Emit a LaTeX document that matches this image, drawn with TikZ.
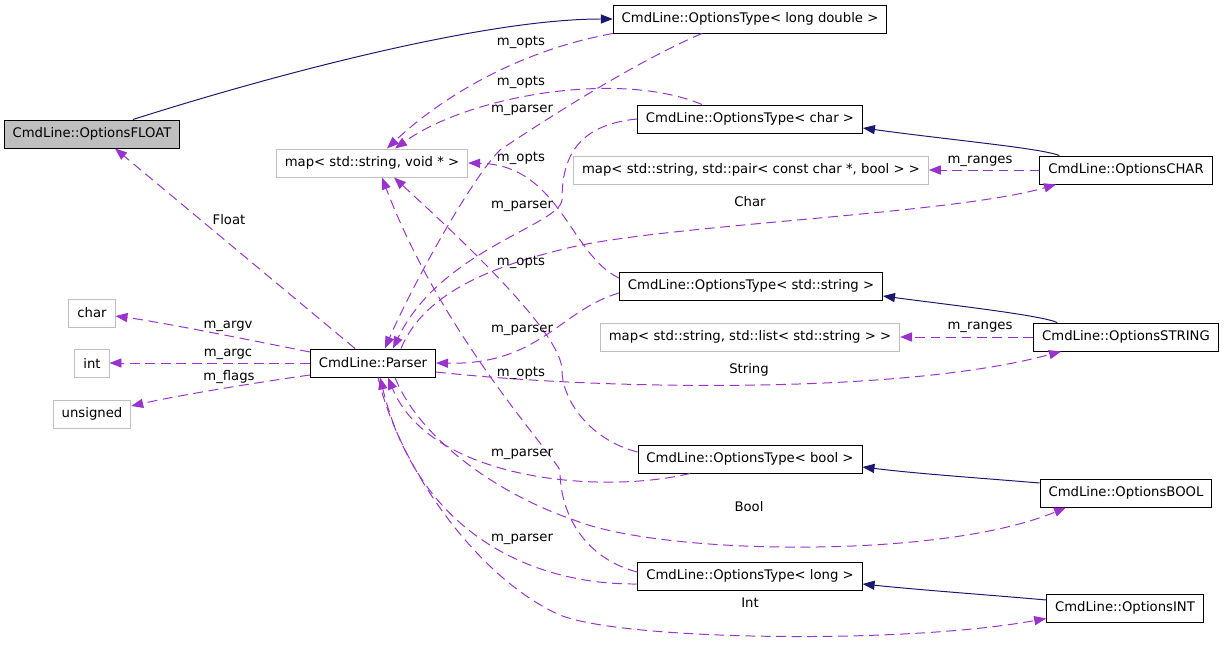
\documentclass[tikz,border=0pt]{standalone}
\usepackage{fontspec}
\setmainfont{DejaVu Sans}
\usepackage{tikz}
\usetikzlibrary{arrows.meta,calc}
\definecolor{inhBlue}{HTML}{191970}
\definecolor{usePurple}{HTML}{9A32CD}
\definecolor{extGray}{HTML}{BFBFBF}

\begin{document}
\begin{tikzpicture}[x=0.025cm,y=-0.025cm,font=\fontsize{9.4}{11}\selectfont,
  cls/.style={draw,fill=white,line width=0.7pt,minimum height=0.7cm,inner xsep=6pt,inner ysep=0pt},
  ext/.style={cls,draw=extGray},
  focus/.style={cls,fill=extGray},
  inh/.style={draw=inhBlue,line width=0.7pt,-{Triangle[length=8.5pt,width=6.5pt]}},
  use/.style={draw=usePurple,line width=0.7pt,dash pattern=on 7pt off 4pt,-{Triangle[length=8.5pt,width=6.5pt]}},
  lbl/.style={inner sep=0pt}]
\useasboundingbox (0,0) rectangle (1224,649);
% classes
\node[focus] (flt) at (92,134) {CmdLine::OptionsFLOAT};
\node[cls] (ldbl) at (750,19) {CmdLine::OptionsType< long double >};
\node[ext] (vmap) at (372,163) {map< std::string, void * >};
\node[cls] (tchar) at (750,119) {CmdLine::OptionsType< char >};
\node[ext] (pmap) at (751,170) {map< std::string, std::pair< const char *, bool > >};
\node[cls] (ochar) at (1126,170) {CmdLine::OptionsCHAR};
\node[cls] (tstr) at (751,286) {CmdLine::OptionsType< std::string >};
\node[ext] (lmap) at (750,337) {map< std::string, std::list< std::string > >};
\node[cls] (ostr) at (1126,337) {CmdLine::OptionsSTRING};
\node[cls] (parser) at (373,363) {CmdLine::Parser};
\node[ext] (cchar) at (92,313) {char};
\node[ext] (cint) at (92,363) {int};
\node[ext] (cuns) at (92,414) {unsigned};
\node[cls] (tbool) at (750,459) {CmdLine::OptionsType< bool >};
\node[cls] (obool) at (1126,493) {CmdLine::OptionsBOOL};
\node[cls] (tlong) at (750,576) {CmdLine::OptionsType< long >};
\node[cls] (oint) at (1125,608) {CmdLine::OptionsINT};
% inheritance
\draw[inh] ($(flt.north)+(41,0)$) .. controls (263,78) and (480,19) .. (ldbl.west);
\draw[inh] ($(ochar.north west)+(20,0)$) .. controls (1040,148) and (950,140) .. ($(tchar.east)+(0,9)$);
\draw[inh] ($(ostr.north west)+(24,0)$) .. controls (1040,315) and (950,305) .. ($(tstr.east)+(0,10)$);
\draw[inh] ($(obool.west)+(0,-10)$) .. controls (980,478) and (920,474) .. ($(tbool.east)+(0,8)$);
\draw[inh] ($(oint.west)+(0,-8)$) .. controls (990,595) and (920,590) .. ($(tlong.east)+(0,8)$);
% parser members
\draw[use] ($(parser.north)+(-18,0)$) -- ($(flt.south)+(23,0)$);
\draw[use] ($(parser.west)+(0,-11)$) .. controls (240,338) and (160,322) .. ($(cchar.east)+(0,3)$);
\draw[use] (parser.west) -- (cint.east);
\draw[use] ($(parser.west)+(0,12)$) .. controls (260,382) and (180,395) .. ($(cuns.east)+(0,-8)$);
\draw[use] ($(parser.north)+(28,0)$) .. controls (425,290) and (500,265) .. (560,250)
  .. controls (650,225) and (950,215) .. ($(ochar.south)+(-70,0)$);
\draw[use] ($(parser.east)+(0,9)$) .. controls (600,390) and (900,395) .. ($(ostr.south)+(-65,0)$);
\draw[use] ($(parser.south)+(22,0)$) .. controls (420,440) and (500,495) .. (574,520)
  .. controls (660,555) and (940,560) .. ($(obool.south)+(-60,0)$);
\draw[use] ($(parser.south)+(5,0)$) .. controls (400,470) and (480,580) .. (560,615)
  .. controls (620,640) and (900,645) .. ($(oint.south west)+(0,-4)$);
% m_opts
\draw[use] (ldbl.south west) .. controls (507,53) and (432,106) .. ($(vmap.north)+(15,0)$);
\draw[use] ($(tchar.north)+(-48,0)$) .. controls (620,70) and (470,95) .. ($(vmap.north)+(23,0)$);
\draw[use] ($(tstr.west)+(0,-8)$) .. controls (570,255) and (560,165) .. (vmap.east);
\draw[use] ($(tbool.west)+(0,-7)$) .. controls (590,440) and (562,400) .. (562,370)
  .. controls (562,330) and (440,220) .. ($(vmap.south)+(22,0)$);
\draw[use] ($(tlong.west)+(0,-4)$) .. controls (590,560) and (560,520) .. (560,470)
  .. controls (545,445) and (440,330) .. ($(vmap.south)+(10,0)$);
% m_parser
\draw[use] ($(ldbl.south)+(-48,0)$) .. controls (640,60) and (560,110) .. (500,150)
  .. controls (470,180) and (410,290) .. ($(parser.north)+(12,0)$);
\draw[use] (tchar.west) .. controls (575,125) and (562,160) .. (562,200)
  .. controls (560,225) and (440,250) .. ($(parser.north)+(20,0)$);
\draw[use] ($(tstr.west)+(0,7)$) .. controls (560,310) and (540,365) .. (parser.east);
\draw[use] ($(tbool.south)+(-60,0)$) .. controls (600,495) and (430,480) .. ($(parser.south)+(15,0)$);
\draw[use] ($(tlong.west)+(0,8)$) .. controls (540,585) and (420,540) .. ($(parser.south)+(7,0)$);
% m_ranges
\draw[use] (ochar.west) -- (pmap.east);
\draw[use] (ostr.west) -- (lmap.east);
% labels
\node[lbl] (lFloat) at (229,220) {Float};
\node[lbl] (lArgv) at (228,326) {m\_argv};
\node[lbl] (lArgc) at (228,354) {m\_argc};
\node[lbl] (lFlags) at (229,377) {m\_flags};
\node[lbl] (lOpts1) at (521,42) {m\_opts};
\node[lbl] (lOpts2) at (521,82) {m\_opts};
\node[lbl] (lOpts3) at (521,158) {m\_opts};
\node[lbl] (lOpts4) at (521,262) {m\_opts};
\node[lbl] (lOpts5) at (521,373) {m\_opts};
\node[lbl] (lPars1) at (522,110) {m\_parser};
\node[lbl] (lPars2) at (522,206) {m\_parser};
\node[lbl] (lPars3) at (522,330) {m\_parser};
\node[lbl] (lPars4) at (522,454) {m\_parser};
\node[lbl] (lPars5) at (522,539) {m\_parser};
\node[lbl] (lChar) at (750,202) {Char};
\node[lbl] (lString) at (749,370) {String};
\node[lbl] (lBool) at (749,507) {Bool};
\node[lbl] (lInt) at (750,603) {Int};
\node[lbl] (lRng1) at (980,161) {m\_ranges};
\node[lbl] (lRng2) at (980,327) {m\_ranges};
\end{tikzpicture}
\end{document}
